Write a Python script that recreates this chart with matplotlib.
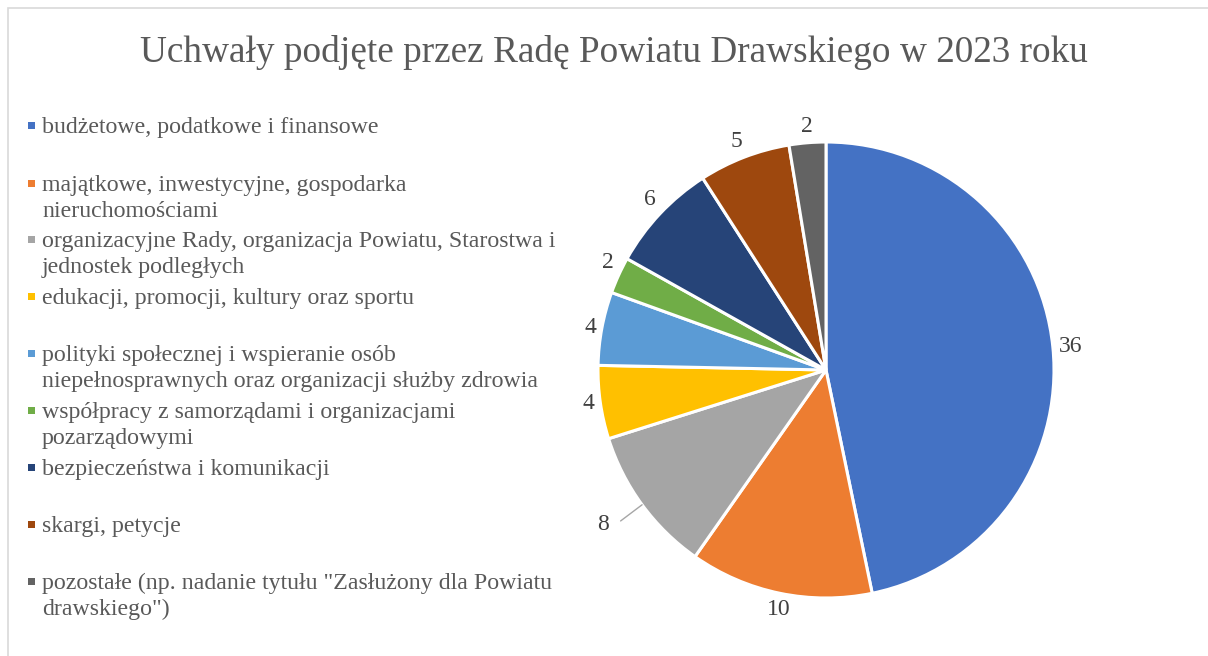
import numpy as np
import matplotlib
matplotlib.use("Agg")
import matplotlib.pyplot as plt
from matplotlib.patches import Rectangle

# data
categories = [
    'budżetowe, podatkowe i finansowe',
    'majątkowe, inwestycyjne, gospodarka\nnieruchomościami',
    'organizacyjne Rady, organizacja Powiatu, Starostwa i\njednostek podległych',
    'edukacji, promocji, kultury oraz sportu',
    'polityki społecznej i wspieranie osób\nniepełnosprawnych oraz organizacji służby zdrowia',
    'współpracy z samorządami i organizacjami\npozarządowymi',
    'bezpieczeństwa i komunikacji',
    'skargi, petycje',
    'pozostałe (np. nadanie tytułu "Zasłużony dla Powiatu\ndrawskiego")',
]
values = [36, 10, 8, 4, 4, 2, 6, 5, 2]
colors = ['#4472C4', '#ED7D31', '#A5A5A5', '#FFC000', '#5B9BD5',
          '#70AD47', '#264478', '#9E480E', '#636363']
title = 'Uchwały podjęte przez Radę Powiatu Drawskiego w 2023 roku'

plt.rcParams['font.family'] = ['Liberation Serif', 'DejaVu Serif']

W, H = 1208, 656
fig = plt.figure(figsize=(W / 100, H / 100), dpi=100)

# chart border
fig.patches.append(Rectangle((8 / W, -0.01), 1.2, 1 - 8 / H + 0.01, transform=fig.transFigure,
                             fill=False, edgecolor='#D9D9D9', linewidth=1.2))

fig.text(614 / W, 1 - 53 / H, title, ha='center', va='center',
         fontsize=26.8, color='#595959')

# pie
cx, cy, r = 826, 370, 228
ax = fig.add_axes([(cx - r) / W, (H - cy - r) / H, 2 * r / W, 2 * r / H])
wedges, _ = ax.pie(values, colors=colors, startangle=90, counterclock=False,
                   radius=1.0, wedgeprops=dict(edgecolor='white', linewidth=2.2))
ax.set_xlim(-1, 1)
ax.set_ylim(-1, 1)
ax.set_aspect('equal')
ax.axis('off')

for w, v in zip(wedges, values):
    ang = np.deg2rad((w.theta1 + w.theta2) / 2)
    c, s = np.cos(ang), np.sin(ang)
    if v == 8:
        d = 1.15
        x, y = d * c, d * s
        ax.annotate(str(v), xy=(c, s), xytext=(x - 0.05, y), ha='center', va='center',
                    fontsize=17, color='#404040', annotation_clip=False,
                    arrowprops=dict(arrowstyle='-', color='#A6A6A6', lw=1,
                                    shrinkA=7, shrinkB=0,
                                    connectionstyle='angle,angleA=0,angleB=%d' % np.rad2deg(ang)))
        continue
    ha = 'left' if c > 0.35 else ('right' if c < -0.35 else 'center')
    va = 'bottom' if s > 0.35 else ('top' if s < -0.35 else 'center')
    d = 1.025
    ax.text(d * c, d * s, str(v), ha=ha, va=va, fontsize=17,
            color='#404040', clip_on=False)

# legend
ys = [125, 183, 239, 296, 353, 410, 467, 524, 581]
for lab, col, yy in zip(categories, colors, ys):
    fig.patches.append(Rectangle((28 / W, 1 - (yy + 4) / H), 7 / W, 7 / H,
                                 transform=fig.transFigure, facecolor=col,
                                 edgecolor='none'))
    fig.text(42 / W, 1 - (yy - 8) / H, lab, ha='left', va='top', fontsize=17.2,
             color='#595959', linespacing=1.3)

fig.savefig('out.png', dpi=100)
